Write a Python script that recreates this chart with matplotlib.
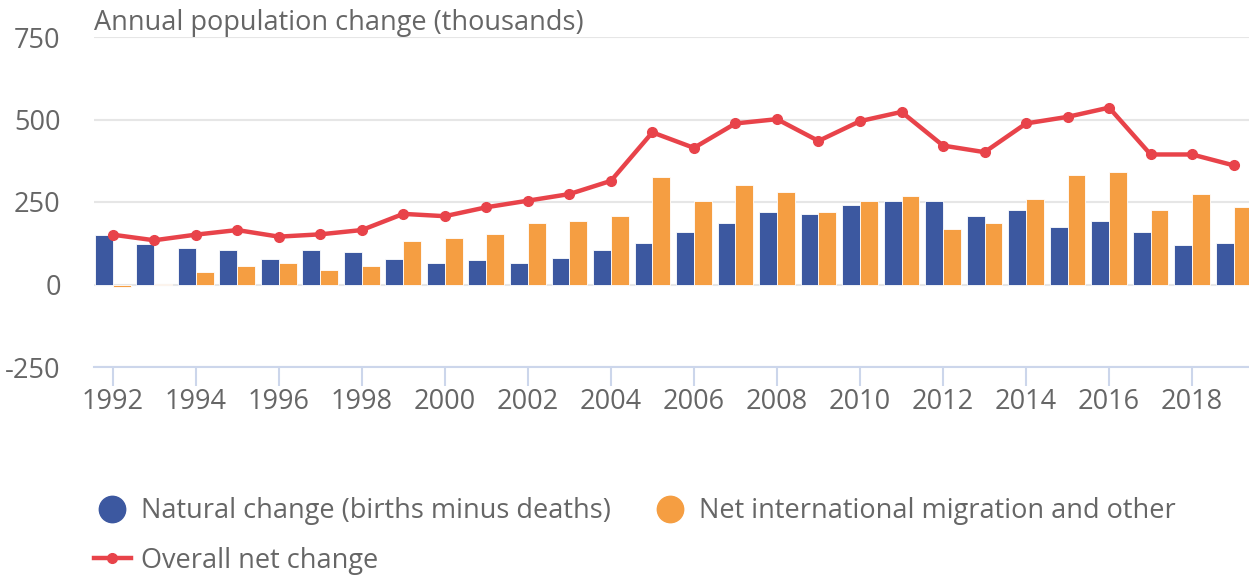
import numpy as np
import matplotlib.pyplot as plt
from matplotlib.lines import Line2D

plt.rcParams['font.family'] = ['Open Sans', 'DejaVu Sans']
plt.rcParams['axes.unicode_minus'] = False

# data (thousands)
years = np.arange(1992, 2020)
natural = [151, 124, 111, 105, 77, 105, 97, 78, 66, 73, 66, 79, 106, 127,
           160, 186, 220, 213, 240, 253, 253, 207, 227, 173, 193, 160, 120, 127]
migration = [-8, 3, 37, 57, 64, 44, 57, 132, 140, 154, 186, 193, 207, 326,
             253, 301, 280, 220, 253, 267, 167, 186, 260, 333, 340, 227, 274, 234]
overall = [151, 134, 151, 165, 145, 152, 165, 214, 207, 234, 254, 274, 314, 461,
           414, 488, 501, 435, 495, 523, 421, 401, 488, 508, 536, 394, 394, 361]

blue = '#3c58a0'
orange = '#f59e42'
red = '#e8434a'
grey = '#666666'
fs = 19.5

fig = plt.figure(figsize=(12.49, 5.8), dpi=100)
ax = fig.add_axes([94 / 1249, 1 - 367 / 580, 1 - 94 / 1249, (367 - 37) / 580])

w = 0.43
ax.bar(years - w / 2, natural, width=w, color=blue, edgecolor='white', linewidth=0.6, zorder=2)
ax.bar(years + w / 2, migration, width=w, color=orange, edgecolor='white', linewidth=0.6, zorder=2)
ax.plot(years, overall, color=red, lw=3.2, marker='o', markersize=7, zorder=3)

ax.set_ylim(-250, 750)
ax.set_xlim(1991.55, 2019.37)
ax.set_yticks([-250, 0, 250, 500, 750])
ax.set_xticks(np.arange(1992, 2020, 2))
ax.grid(axis='y', color='#e6e6e6', lw=1.5, zorder=0)

for s in ['top', 'right', 'left']:
    ax.spines[s].set_visible(False)
ax.spines['bottom'].set_color('#ccd6eb')
ax.spines['bottom'].set_linewidth(1.5)
ax.tick_params(axis='x', length=14, color='#ccd6eb', width=1.5, labelsize=fs,
               labelcolor=grey, pad=1)
ax.tick_params(axis='y', length=0, labelsize=fs, labelcolor=grey, pad=24)

fig.text(94 / 1249, 1 - 30 / 580, 'Annual population change (thousands)',
         fontsize=fs, color=grey, va='baseline', ha='left')

handles = [
    Line2D([], [], ls='none', marker='o', markersize=19, color=blue),
    Line2D([], [], color=red, lw=3.2, marker='o', markersize=7),
    Line2D([], [], ls='none', marker='o', markersize=19, color=orange),
]
labels = ['Natural change (births minus deaths)', 'Overall net change',
          'Net international migration and other']
fig.legend(handles, labels, ncol=2, loc='upper left',
           bbox_to_anchor=(94 / 1249, 1 - 497 / 580), frameon=False,
           fontsize=fs, labelcolor=grey, handlelength=1.35, handletextpad=0.4,
           columnspacing=1.5, labelspacing=0.8, borderpad=0, borderaxespad=0)

fig.savefig('out.png', dpi=100)
